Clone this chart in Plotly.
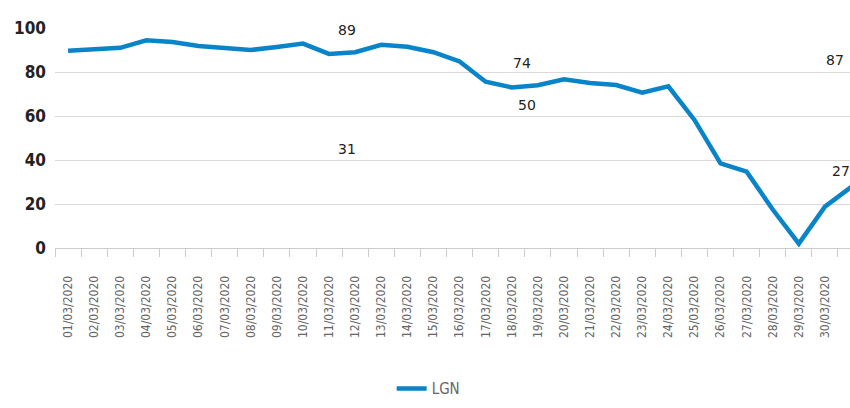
import plotly.graph_objects as go

dates = [f"{d:02d}/03/2020" for d in range(1, 32)]
lgn = [89.7, 90.2, 91.0, 94.4, 93.6, 91.8, 91.0, 90.0, 91.4, 92.9,
       88.2, 89.0, 92.4, 91.5, 89.0, 84.8, 75.6, 73.0, 74.0, 76.7,
       75.0, 74.1, 70.6, 73.5, 58.2, 38.5, 34.7, 17.5, 2.0, 18.8, 27.7]

label_texts = ["89", "74", "87", "31", "50", "27"]
label_x = [10.69, 17.4, 29.4, 10.69, 17.6, 29.62]
label_y = [103.6, 88.6, 90.0, 45.0, 65.0, 35.0]

fig = go.Figure()
fig.add_trace(go.Scatter(
    x=dates, y=lgn, mode="lines", name="LGN",
    line=dict(color="#0a84c8", width=4.5),
))

for t, xx, yy in zip(label_texts, label_x, label_y):
    fig.add_annotation(x=xx, y=yy / 100.0, xref="x", yref="paper", text=t, showarrow=False,
                       font=dict(family="DejaVu Sans", size=14, color="#222222"))

fig.update_layout(
    width=850, height=408,
    margin=dict(l=55, r=0, t=28, b=160),
    paper_bgcolor="white", plot_bgcolor="white",
    showlegend=True,
    legend=dict(orientation="h", x=0.47, xanchor="center",
                y=-0.64, yanchor="middle",
                font=dict(family="DejaVu Sans Condensed", size=15, color="#666666")),
    xaxis=dict(type="category", range=[-0.5, 29.96], tickangle=-90,
               tickson="boundaries", ticks="outside", ticklen=8, tickcolor="#cccccc",
               showgrid=False, showline=True, linecolor="#cccccc", linewidth=1,
               ticklabelstandoff=22,
               tickfont=dict(family="DejaVu Sans Condensed", size=12, color="#666666")),
    yaxis=dict(range=[0, 100], tickvals=[0, 20, 40, 60, 80, 100], showgrid=True,
               gridcolor="#d9d9d9", gridwidth=1, zeroline=False, showline=False,
               ticklabelstandoff=8,
               tickfont=dict(family="DejaVu Sans Condensed", size=17, color="#222222", weight="bold")),
)

fig.write_html("out.html", config={"displayModeBar": False},
               post_script="document.body.style.margin='0';document.body.style.overflow='hidden';")
